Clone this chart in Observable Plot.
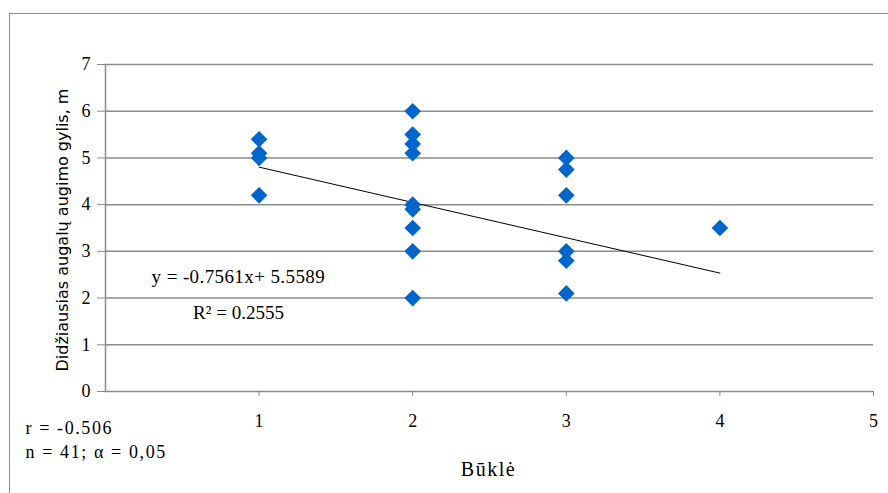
<!DOCTYPE html>
<html>
<head>
<meta charset="utf-8">
<script src="https://cdn.jsdelivr.net/npm/d3@7"></script>
<script src="https://cdn.jsdelivr.net/npm/@observablehq/plot@0.6"></script>
<style>
  html, body { margin: 0; padding: 0; background: #fff; }
  #wrap { position: relative; width: 888px; height: 493px; overflow: hidden; }
  #border { position: absolute; left: 9px; top: 13px; width: 900px; height: 500px; border: 1px solid #8c8c8c; box-sizing: border-box; }
  #chart { position: absolute; left: 0; top: 0; }
  #chart svg text { font-family: "Liberation Serif", "Times New Roman", serif !important; }
  #chart svg text.title-y { font-family: "DejaVu Sans", Verdana, sans-serif !important; }
</style>
</head>
<body>
<div id="wrap"><div id="border"></div><div id="chart"></div></div>
<script>
// Būklė (condition class) of each sample and its maximum rooting depth, m
const bukle = [1, 1, 1, 1,
               2, 2, 2, 2, 2, 2, 2, 2, 2,
               3, 3, 3, 3, 3, 3,
               4];
const gylis = [5.4, 5.1, 5.0, 4.2,
               6.0, 5.5, 5.3, 5.1, 4.0, 3.9, 3.5, 3.0, 2.0,
               5.0, 4.75, 4.2, 3.0, 2.8, 2.1,
               3.5];

// Linear trend reported on the chart
const slope = -0.7561;
const intercept = 5.5589;
const rSquared = 0.2555;
const trendRange = [1, 4];

const xTicks = [1, 2, 3, 4, 5];
const yTicks = [0, 1, 2, 3, 4, 5, 6, 7];

const yTitle = "Didžiausias augalų augimo gylis, m";
const xTitle = "Būklė";
const statR = "r = -0.506";
const statN = "n = 41; α = 0,05";
const equation = `y = ${slope}x+ ${intercept}`;

const points = bukle.map((b, i) => ({x: b, y: gylis[i]}));
const trend = trendRange.map(x => ({x, y: slope * x + intercept}));

const grid = "#8c8c8c";

const chart = Plot.plot({
  width: 888,
  height: 493,
  marginLeft: 105,
  marginRight: 15,
  marginTop: 64,
  marginBottom: 102,
  style: {background: "transparent", overflow: "visible"},
  x: {domain: [0, 5]},
  y: {domain: [0, 7]},
  marks: [
    Plot.ruleY(yTicks, {stroke: grid, strokeWidth: 1.5}),
    Plot.ruleX([0], {stroke: grid, strokeWidth: 1.5}),
    Plot.axisY({ticks: yTicks, tickFormat: "d", tickSize: 8, tickPadding: 7, stroke: grid, fontSize: 18, fill: "#000", label: null}),
    Plot.axisX({ticks: xTicks, tickFormat: "d", tickSize: 5, tickPadding: 18, stroke: grid, fontSize: 18, fill: "#000", label: null}),
    Plot.line(trend, {x: "x", y: "y", stroke: "#000", strokeWidth: 1}),
    Plot.dot(points, {x: "x", y: "y", symbol: "diamond2", r: 7.5, fill: "#0066cc", stroke: "none"}),
    Plot.text([equation], {x: 0.3, y: 2.45, text: d => d, textAnchor: "start", fontSize: 19}),
    Plot.text([`R² = ${rSquared}`], {x: 0.57, y: 1.69, text: d => d, textAnchor: "start", fontSize: 19}),
    Plot.text([statR], {frameAnchor: "bottom-left", dx: -80, dy: 42, text: d => d, textAnchor: "start", fontSize: 18}),
    Plot.text([statN], {frameAnchor: "bottom-left", dx: -80, dy: 66, text: d => d, textAnchor: "start", fontSize: 18}),
    Plot.text([xTitle], {frameAnchor: "bottom", dx: -1, dy: 84, text: d => d, fontSize: 20}),
    Plot.text([yTitle], {frameAnchor: "left", dx: -43, dy: 2, rotate: -90, textAnchor: "middle", text: d => d, fontSize: 16})
  ]
});

// The statistics and axis title lines are set slightly wider
const spacing = new Map([[statR, "1.6px"], [statN, "1.6px"], [xTitle, "1.5px"], [equation, "0.4px"]]);
d3.select(chart).selectAll("text")
  .classed("title-y", function() { return this.textContent === yTitle; })
  .style("letter-spacing", function() { return spacing.get(this.textContent) || null; });

document.getElementById("chart").appendChild(chart);
</script>
</body>
</html>
